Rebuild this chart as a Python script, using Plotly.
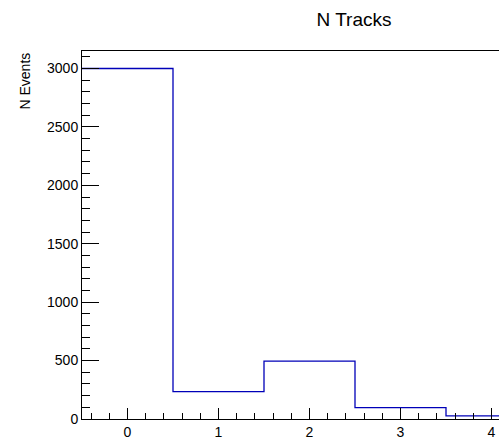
import numpy as np
import plotly.graph_objects as go

# Histogram contents: number of tracks per event (integer bins centred on 0, 1, 2, ...)
n_tracks = [0, 1, 2, 3, 4]
n_events = [3000, 235, 495, 98, 27]

title_text = "N Tracks"
y_title_text = "N Events"

# Bin edges for unit-width bins centred on the integer track counts
centers = np.array(n_tracks, dtype=float)
edges = np.append(centers - 0.5, centers[-1] + 0.5)
step_y = list(n_events) + [n_events[-1]]

font_family = "Liberation Sans, Arial, Helvetica, sans-serif"
W, H = 499, 440
L, T, B, R = 82, 51, 18, 0

fig = go.Figure()
fig.add_trace(go.Scatter(
    x=edges,
    y=step_y,
    mode="lines",
    line=dict(shape="hv", color="#0000b8", width=1.3),
    hoverinfo="skip",
    showlegend=False,
))

fig.update_layout(
    width=W,
    height=H,
    margin=dict(l=L, r=R, t=T, b=B, pad=0),
    paper_bgcolor="white",
    plot_bgcolor="white",
    font=dict(family=font_family, color="black"),
    title=dict(
        text=title_text,
        font=dict(size=19, family=font_family, color="black"),
        xref="container", x=354 / W, xanchor="center",
        yref="container", y=1 - 19 / H, yanchor="middle",
    ),
    showlegend=False,
)

fig.update_xaxes(
    range=[-0.5, -0.5 + (W - L) / 91.0],
    tickmode="linear", tick0=0, dtick=1,
    ticks="inside", ticklen=11, tickwidth=1, tickcolor="black",
    minor=dict(dtick=0.2, tick0=0, ticks="inside", ticklen=6, tickwidth=1, tickcolor="black", showgrid=False),
    showline=True, linecolor="black", linewidth=1, mirror=True,
    showgrid=False, zeroline=False,
    tickfont=dict(size=14, family=font_family, color="black"),
)

fig.update_yaxes(
    range=[0, 3150],
    tickmode="linear", tick0=0, dtick=500,
    ticks="inside", ticklen=17, tickwidth=1, tickcolor="black",
    minor=dict(dtick=100, tick0=0, ticks="inside", ticklen=8, tickwidth=1, tickcolor="black", showgrid=False),
    showline=True, linecolor="black", linewidth=1, mirror=False,
    showgrid=False, zeroline=False,
    tickfont=dict(size=14, family=font_family, color="black"),
)

# Axis title placed at the top end of the y axis
fig.add_annotation(
    text=y_title_text,
    xref="paper", yref="paper",
    x=(25 - L) / (W - L), y=1.0 + 1 / (H - T - B),
    xanchor="center", yanchor="top",
    textangle=-90,
    showarrow=False,
    font=dict(size=14, family=font_family, color="black"),
)

fig.write_html("out.html")
